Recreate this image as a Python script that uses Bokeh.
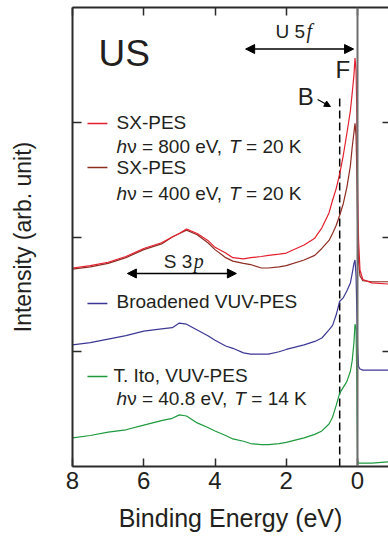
from bokeh.plotting import figure
from bokeh.models import (Range1d, FixedTicker, LinearAxis, Label, Arrow, NormalHead, Span,
                          CustomLabelingPolicy)
from bokeh.embed import file_html
from bokeh.resources import INLINE

# ---------------- data ----------------
energy = [8.0, 7.5, 7.0, 6.5, 6.0, 5.5, 5.2, 5.0, 4.8, 4.5,
          4.2, 4.0, 3.7, 3.5, 3.2, 3.0, 2.7, 2.5, 2.2, 2.0,
          1.5, 1.2, 1.0, 0.8, 0.7, 0.6, 0.5, 0.4, 0.3, 0.2,
          0.15, 0.1, 0.07, 0.04, 0.02, 0.0, -0.03, -0.07, -0.15, -0.4,
          -0.87]
sx800 = [1.73, 1.75, 1.78, 1.83, 1.90, 1.95, 2.00, 2.03, 2.07, 2.03,
         1.97, 1.91, 1.86, 1.82, 1.81, 1.82, 1.83, 1.84, 1.85, 1.86,
         1.93, 1.99, 2.08, 2.21, 2.32, 2.42, 2.55, 2.71, 2.90, 3.10,
         3.25, 3.41, 3.56, 3.45, 3.10, 2.49, 1.97, 1.71, 1.63, 1.60,
         1.59]
sx400 = [1.72, 1.74, 1.77, 1.82, 1.89, 1.94, 2.00, 2.03, 2.06, 2.02,
         1.95, 1.89, 1.82, 1.79, 1.77, 1.76, 1.73, 1.73, 1.74, 1.75,
         1.80, 1.84, 1.90, 1.97, 2.03, 2.10, 2.19, 2.29, 2.43, 2.62,
         2.78, 2.91, 2.99, 2.88, 2.58, 2.14, 1.78, 1.66, 1.62, 1.61,
         1.61]
vuv_broad = [1.06, 1.08, 1.11, 1.14, 1.18, 1.20, 1.21, 1.25, 1.24, 1.19,
             1.14, 1.10, 1.05, 1.03, 0.99, 0.98, 0.98, 0.98, 1.00, 1.02,
             1.06, 1.09, 1.12, 1.19, 1.23, 1.32, 1.44, 1.47, 1.53, 1.60,
             1.68, 1.77, 1.80, 1.66, 1.36, 1.05, 0.87, 0.85, 0.84, 0.84,
             0.84]
vuv_ito = [0.25, 0.27, 0.30, 0.32, 0.36, 0.40, 0.42, 0.45, 0.44, 0.38,
           0.34, 0.31, 0.27, 0.24, 0.22, 0.20, 0.19, 0.19, 0.20, 0.21,
           0.25, 0.28, 0.31, 0.37, 0.43, 0.53, 0.64, 0.69, 0.74, 0.83,
           0.92, 1.08, 1.24, 1.20, 0.75, 0.05, 0.03, 0.03, 0.03, 0.03,
           0.04]

x_ticks = [8, 6, 4, 2, 0]
y_ticks = [1, 2, 3]
b_energy = 0.5   # dashed marker "B"

# ---------------- style ----------------
FONT = "Liberation Sans"
SERIF = "Liberation Serif"
TXT = "#231f20"
AX = "#2b2b2b"
C_RED = "#e41f2d"
C_BROWN = "#8e2c22"
C_BLUE = "#3b3795"
C_GREEN = "#1e9a3e"

no_labels = CustomLabelingPolicy(code="return new Set()")

p = figure(width=388, height=537, x_range=Range1d(8, -0.87), y_range=Range1d(0, 4),
           output_backend="svg", toolbar_location=None,
           min_border_left=72, min_border_right=0, min_border_top=7, min_border_bottom=71)
p.outline_line_color = None
p.xgrid.visible = False
p.ygrid.visible = False
p.background_fill_color = "white"
p.border_fill_color = "white"

# bottom axis
xa = p.xaxis[0]
xa.ticker = FixedTicker(ticks=x_ticks)
xa.major_tick_in = 8
xa.major_tick_out = 0
xa.minor_tick_in = 0
xa.minor_tick_out = 0
xa.axis_line_width = 2
xa.axis_line_color = AX
xa.major_tick_line_width = 1.5
xa.major_tick_line_color = AX
xa.major_label_text_font = FONT
xa.major_label_text_font_size = "24px"
xa.major_label_text_color = TXT
xa.major_label_standoff = 5
xa.axis_label = "Binding Energy (eV)"
xa.axis_label_text_font = FONT
xa.axis_label_text_font_size = "25px"
xa.axis_label_text_font_style = "normal"
xa.axis_label_text_color = TXT
xa.axis_label_standoff = 12

# left axis
ya = p.yaxis[0]
ya.ticker = FixedTicker(ticks=y_ticks)
ya.major_tick_in = 9
ya.major_tick_out = 0
ya.minor_tick_in = 0
ya.minor_tick_out = 0
ya.axis_line_width = 2
ya.axis_line_color = AX
ya.major_tick_line_width = 1.5
ya.major_tick_line_color = AX
ya.major_label_policy = no_labels
ya.major_label_text_font_size = "0px"
ya.major_label_standoff = 0
ya.axis_label = "Intensity (arb. unit)"
ya.axis_label_text_font = FONT
ya.axis_label_text_font_size = "23px"
ya.axis_label_text_font_style = "normal"
ya.axis_label_text_color = TXT
ya.axis_label_standoff = 37

# top axis
ta = LinearAxis(ticker=FixedTicker(ticks=x_ticks), major_tick_in=8, major_tick_out=0,
                minor_tick_in=0, minor_tick_out=0, axis_line_width=2, axis_line_color=AX,
                major_tick_line_width=1.5, major_tick_line_color=AX,
                major_label_policy=CustomLabelingPolicy(code="return new Set()"),
                major_label_text_font_size="0px", major_label_standoff=0)
p.add_layout(ta, "above")
# right axis (frame edge cut off)
ra = LinearAxis(ticker=FixedTicker(ticks=y_ticks), major_tick_in=6, major_tick_out=0,
                minor_tick_in=0, minor_tick_out=0, axis_line_color=None,
                major_tick_line_width=1.5, major_tick_line_color=AX,
                major_label_policy=CustomLabelingPolicy(code="return new Set()"),
                major_label_text_font_size="0px", major_label_standoff=0)
p.add_layout(ra, "right")

# Fermi level line
p.add_layout(Span(location=0, dimension="height", line_color="#6e6e6e", line_width=2))

# dashed marker B
p.segment(x0=[b_energy], y0=[0], x1=[b_energy], y1=[3.207], line_color="black",
          line_width=1.5, line_dash="8 4")

# spectra
p.line(energy, vuv_ito, line_color=C_GREEN, line_width=1.2)
p.line(energy, vuv_broad, line_color=C_BLUE, line_width=1.2)
p.line(energy, sx400, line_color=C_BROWN, line_width=1.2)
p.line(energy, sx800, line_color=C_RED, line_width=1.2)


def lab(x, y, text, size=19, font=FONT, style="normal", dx=0):
    p.add_layout(Label(x=x, y=y, text=text, text_font=font, text_font_size=f"{size}px",
                       text_font_style=style, text_color=TXT, text_baseline="alphabetic",
                       text_align="left", x_offset=dx, y_offset=round(0.37 * size)))


# title
lab(7.27, 3.477, "US", size=37)

# U 5f annotation
lab(2.30, 3.730, "U 5", size=19)
lab(2.30, 3.730, "f", size=20, font=SERIF, style="italic", dx=31)
p.add_layout(Arrow(start=NormalHead(size=9, fill_color="black", line_color="black"),
                   end=NormalHead(size=9, fill_color="black", line_color="black"),
                   x_start=3.14, y_start=3.638, x_end=0.11, y_end=3.638,
                   line_width=1.5, line_color="black"))
lab(0.62, 3.381, "F", size=24)
lab(1.68, 3.146, "B", size=24)
p.add_layout(Arrow(end=NormalHead(size=6, fill_color="black", line_color="black"),
                   x_start=1.12, y_start=3.198, x_end=0.76, y_end=3.137,
                   line_width=1.2, line_color="black"))

# S 3p annotation
lab(5.44, 1.726, "S 3", size=19)
lab(5.44, 1.726, "p", size=20, font=SERIF, style="italic", dx=30)
p.add_layout(Arrow(start=NormalHead(size=9, fill_color="black", line_color="black"),
                   end=NormalHead(size=9, fill_color="black", line_color="black"),
                   x_start=6.46, y_start=1.682, x_end=3.40, y_end=1.682,
                   line_width=1.5, line_color="black"))

# legend swatches
sw_x0, sw_x1 = 7.58, 7.02
sw_y = [2.989, 2.606, 1.420, 0.784]
sw_c = [C_RED, C_BROWN, C_BLUE, C_GREEN]
for yy, cc in zip(sw_y, sw_c):
    p.segment(x0=[sw_x0], y0=[yy], x1=[sw_x1], y1=[yy], line_color=cc, line_width=1.5)

tx = 6.764

lab(tx, 2.937, "SX-PES")
lab(tx, 2.728, "h", style="italic")
lab(tx, 2.728, "\u03bd = 800 eV,", dx=10.6)
lab(tx, 2.728, "T", style="italic", dx=112.5)
lab(tx, 2.728, "= 20 K", dx=129.5)

lab(tx, 2.549, "SX-PES")
lab(tx, 2.322, "h", style="italic")
lab(tx, 2.322, "\u03bd = 400 eV,", dx=10.6)
lab(tx, 2.322, "T", style="italic", dx=112.5)
lab(tx, 2.322, "= 20 K", dx=129.5)

lab(tx, 1.381, "Broadened VUV-PES")

lab(6.85, 0.732, "T. Ito, VUV-PES")
lab(tx, 0.532, "h", style="italic")
lab(tx, 0.532, "\u03bd = 40.8 eV,", dx=10.6)
lab(tx, 0.532, "T", style="italic", dx=117.8)
lab(tx, 0.532, "= 14 K", dx=134.8)

open("out.html", "w").write(file_html(p, INLINE))
